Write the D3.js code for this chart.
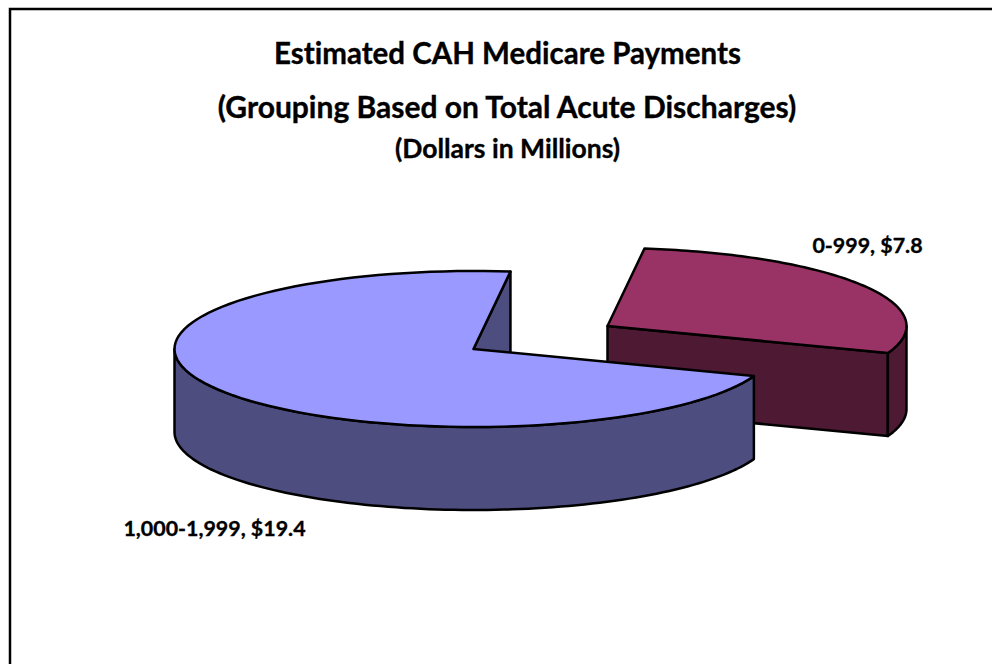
<!DOCTYPE html>
<html><head><meta charset="utf-8">
<script src="https://cdn.jsdelivr.net/npm/d3@7"></script>
<style>html,body{margin:0;padding:0;background:#fff}svg{display:block}text{font-family:Lato,"Open Sans",sans-serif;font-weight:700;fill:#000;stroke:#000;stroke-width:.35px;font-variant-ligatures:none;font-feature-settings:"liga" 0}</style>
</head><body>
<script>
const categories = ["0-999", "1,000-1,999"];
const values = [7.8, 19.4];
const labels = ["0-999, $7.8", "1,000-1,999, $19.4"];
const topColors = ["#993366", "#9999FF"];
const sideColors = ["#4D1933", "#4D4D80"];
const titles = ["Estimated CAH Medicare Payments", "(Grouping Based on Total Acute Discharges)", "(Dollars in Millions)"];

const W = 992, H = 664, rx = 299, ry = 78, depth = 83;
const centers = [[607.5, 326], [473.5, 349]];
const labelPos = [[867.5, 252.5], [214.5, 535.5]];
const svg = d3.select("body").append("svg").attr("width", W).attr("height", H);

svg.append("rect").attr("x", 10).attr("y", 9).attr("width", W + 20).attr("height", H + 20)
  .attr("fill", "#fff").attr("stroke", "#000").attr("stroke-width", 2.5);

const arcs = d3.pie().sort(null).startAngle(7.1 * Math.PI / 180).endAngle((360 + 7.1) * Math.PI / 180)(values);
const pt = (c, a, dz = 0) => [c[0] + rx * Math.sin(a), c[1] - ry * Math.cos(a) + dz];
const line = d3.line();
const sweep = (c, a0, a1, dz) => d3.range(0, 101).map(i => pt(c, a0 + (a1 - a0) * i / 100, dz));
const HALF = Math.PI / 2;

function rimPath(c, a0, a1) {
  const top = sweep(c, a0, a1, 0), bottom = sweep(c, a0, a1, depth).reverse();
  return line(top.concat(bottom)) + "Z";
}
const stroke = s => s.attr("stroke", "#000").attr("stroke-width", 2.5).attr("stroke-linejoin", "round");

{
  const c = centers[0], d = arcs[0];
  const e = pt(c, d.endAngle);
  svg.append("path").attr("d", line([c, e, [e[0], e[1] + depth], [c[0], c[1] + depth]]) + "Z")
    .attr("fill", sideColors[0]).call(stroke);
  svg.append("path").attr("d", rimPath(c, HALF, d.endAngle)).attr("fill", sideColors[0]).call(stroke);
  svg.append("path").attr("d", line([c].concat(sweep(c, d.startAngle, d.endAngle, 0))) + "Z")
    .attr("fill", topColors[0]).call(stroke);
}
{
  const c = centers[1], d = arcs[1];
  const s = pt(c, d.endAngle);
  svg.append("path").attr("d", line([c, s, [s[0], s[1] + depth], [c[0], c[1] + depth]]) + "Z")
    .attr("fill", sideColors[1]).call(stroke);
  svg.append("path").attr("d", rimPath(c, d.startAngle, 3 * HALF)).attr("fill", sideColors[1]).call(stroke);
  svg.append("path").attr("d", line([c].concat(sweep(c, d.startAngle, d.endAngle, 0))) + "Z")
    .attr("fill", topColors[1]).call(stroke);
}

const sizes = [29.5, 30, 26.5], ys = [63.5, 117.5, 157.5], xs = [507.5, 507, 507.5];
svg.selectAll("text.t").data(titles).join("text").attr("class", "t")
  .attr("x", (d, i) => xs[i]).attr("y", (d, i) => ys[i]).attr("text-anchor", "middle")
  .attr("font-size", (d, i) => sizes[i]).text(d => d);
svg.selectAll("text.l").data(labels).join("text").attr("class", "l")
  .attr("x", (d, i) => labelPos[i][0]).attr("y", (d, i) => labelPos[i][1]).attr("text-anchor", "middle")
  .attr("font-size", 21.4).text(d => d);
</script>
</body></html>
